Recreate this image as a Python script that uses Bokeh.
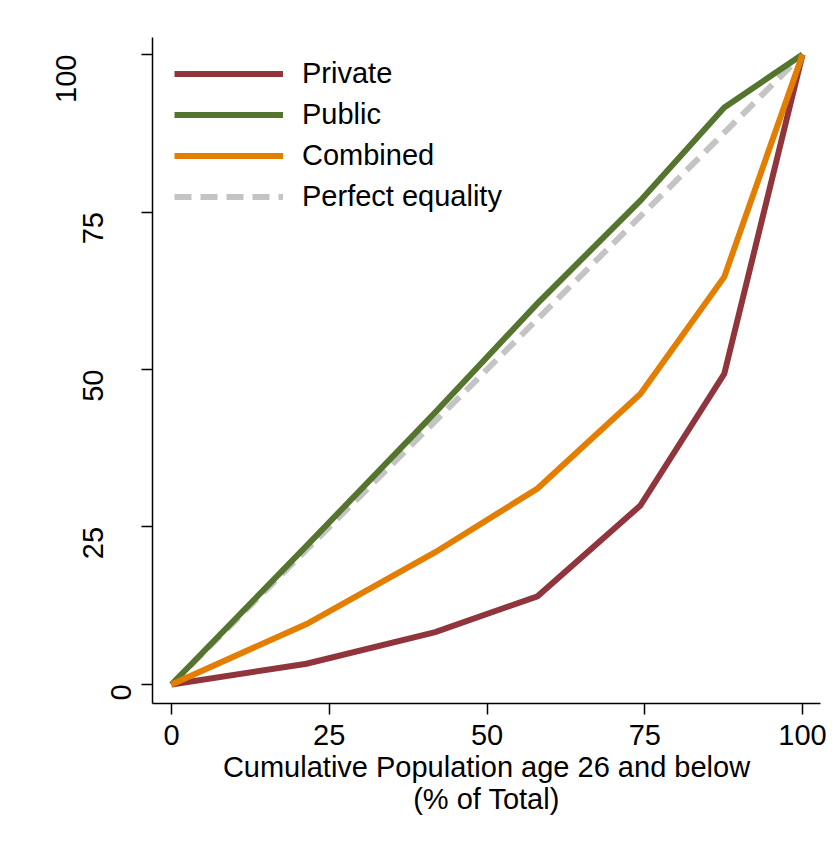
import math

from bokeh.embed import file_html
from bokeh.models import ColumnDataSource, FixedTicker, Legend, LegendItem, Range1d
from bokeh.plotting import figure
from bokeh.resources import INLINE

# Cumulative share of population aged 26 and below (% of total)
population = [0, 21.4, 41.8, 58.0, 74.3, 87.6, 100]

# Cumulative share of spending (% of total) by sector
private = [0, 3.3, 8.3, 14.0, 28.4, 49.3, 100]
public = [0, 22.0, 43.2, 60.5, 76.8, 91.6, 100]
combined = [0, 9.6, 21.0, 31.1, 46.1, 64.7, 100]
equality = [0, 100]

x_ticks = [0, 25, 50, 75, 100]
y_ticks = [0, 25, 50, 75, 100]

x_title = "Cumulative Population age 26 and below\n(% of Total)"

FONT = "Liberation Sans"
FSIZE = "29px"

p = figure(
    width=840, height=842,
    output_backend="svg", toolbar_location=None,
    x_range=Range1d(-3.01, 102.85), y_range=Range1d(-3.02, 102.7),
    min_border_left=152, min_border_right=20,
    min_border_top=37, min_border_bottom=139,
    background_fill_color="white", border_fill_color="white",
)
p.outline_line_color = None
p.grid.visible = False

src = ColumnDataSource(dict(x=population, private=private,
                            public=public, combined=combined))

r_eq = p.line(equality, equality, line_color="#c4c4c4", line_width=6,
              line_dash="17 9")
common = dict(line_width=6, line_join="miter")
r_priv = p.line("x", "private", source=src, line_color="#90353B", **common)
r_pub = p.line("x", "public", source=src, line_color="#55752F", **common)
r_comb = p.line("x", "combined", source=src, line_color="#E37E00", **common)

legend = Legend(
    items=[
        LegendItem(label="Private", renderers=[r_priv]),
        LegendItem(label="Public", renderers=[r_pub]),
        LegendItem(label="Combined", renderers=[r_comb]),
        LegendItem(label="Perfect equality", renderers=[r_eq]),
    ],
    location=(22, 486),
    margin=0, padding=0, spacing=0,
    glyph_width=109, glyph_height=41, label_height=41,
    label_standoff=19,
    label_text_font=FONT, label_text_font_size=FSIZE,
    label_text_color="black",
    border_line_alpha=0, background_fill_alpha=0,
)
p.add_layout(legend, "center")

# x axis
xa = p.xaxis[0]
xa.ticker = FixedTicker(ticks=x_ticks)
xa.minor_tick_line_color = None
xa.major_tick_in = 0
xa.major_tick_out = 11
xa.major_tick_line_width = 1.5
xa.axis_line_width = 1.5
xa.major_label_standoff = 10
xa.major_label_text_font = FONT
xa.major_label_text_font_size = FSIZE
xa.major_label_text_color = "black"
xa.axis_label = x_title
xa.axis_label_text_font = FONT
xa.axis_label_text_font_size = FSIZE
xa.axis_label_text_font_style = "normal"
xa.axis_label_text_color = "black"
xa.axis_label_text_line_height = 1.0
xa.axis_label_standoff = 3

# y axis: vertical labels; shorter labels sit closer to the axis
# (each label is a three-line block with the number in a different slot)
ya = p.yaxis[0]
ya.ticker = FixedTicker(ticks=y_ticks)
ya.minor_tick_line_color = None
ya.major_tick_in = 0
ya.major_tick_out = 11
ya.major_tick_line_width = 1.5
ya.axis_line_width = 1.5
ya.major_label_orientation = math.pi / 2
ya.major_label_standoff = 48
ya.major_label_text_font = FONT
ya.major_label_text_font_size = FSIZE
ya.major_label_text_color = "black"
ya.major_label_text_line_height = 0.86


def stacked_label(v):
    txt = str(v)
    slots = [" ", " ", " "]
    slots[3 - len(txt)] = txt
    return "\n".join(slots)


ya.major_label_overrides = {v: stacked_label(v) for v in y_ticks}

open("out.html", "w").write(file_html(p, INLINE))
